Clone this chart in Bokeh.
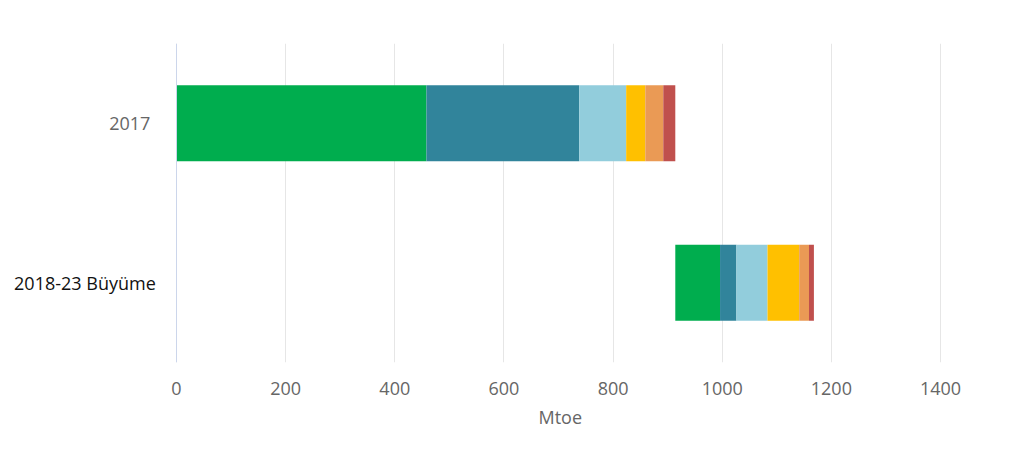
import numpy as np
from bokeh.plotting import figure
from bokeh.models import ColumnDataSource, FactorRange, Label, Span, FixedTicker, Title
from bokeh.embed import file_html
from bokeh.resources import INLINE

# Categories (top to bottom) and their stacked components, in Mtoe
categories = ["2017", "2018-23 Büyüme"]
values_2017 = [458, 280, 86, 35, 33, 22]
growth_2018_23 = [82, 30, 57, 58, 18, 9]
segment_colors = ["#00AD4E", "#31849B", "#92CDDC", "#FFC000", "#EA9A55", "#C0504D"]
x_ticks = [0, 200, 400, 600, 800, 1000, 1200, 1400]

# Growth bar floats on top of the 2017 total
growth_start = sum(values_2017)

# The frame reaches the left edge so the category labels sit inside it;
# the negative part of the x range holds those labels.
p = figure(
    width=1013, height=459,
    y_range=FactorRange(factors=categories[::-1]),
    x_range=(-322.5, 1401.8),
    output_backend="svg", toolbar_location=None,
    min_border_left=0, min_border_right=72,
    min_border_top=43, min_border_bottom=97,
)
p.outline_line_color = None
p.background_fill_color = "white"
p.border_fill_color = "white"

rows = [(categories[0], 0, values_2017), (categories[1], growth_start, growth_2018_23)]
for cat, start, vals in rows:
    right = start + np.cumsum(vals)
    left = right - np.array(vals)
    src = ColumnDataSource(dict(
        y=[cat] * len(vals), left=left, right=right, color=segment_colors,
    ))
    p.hbar(y="y", left="left", right="right", height=0.475, color="color",
           line_color=None, source=src)

# Axes
p.yaxis.visible = False
p.ygrid.grid_line_color = None
p.xgrid.grid_line_color = "#e6e6e6"
p.xgrid.grid_line_width = 1

xa = p.xaxis[0]
xa.ticker = FixedTicker(ticks=x_ticks)
xa.axis_line_color = None
xa.major_tick_line_color = None
xa.minor_tick_line_color = None
xa.major_tick_out = 0
xa.major_tick_in = 0
xa.major_label_standoff = 19
xa.major_label_text_font = "Open Sans"
xa.major_label_text_font_size = "18px"
xa.major_label_text_color = "#666666"

# Axis title, centred under the 0-1400 span
p.add_layout(Title(text="Mtoe", align="left", offset=538, standoff=10,
                   text_font="Open Sans", text_font_size="18px",
                   text_font_style="normal", text_color="#666666"), "below")

# Baseline at zero
p.add_layout(Span(location=0, dimension="height", line_color="#ccd6eb", line_width=1))

# Category labels (y is the factor's synthetic centre)
p.add_layout(Label(x=-48, y=1.5, text=categories[0], text_align="right",
                   text_baseline="middle", text_font="Open Sans",
                   text_font_size="18px", text_color="#666666"))
p.add_layout(Label(x=-38, y=0.5, text=categories[1], text_align="right",
                   text_baseline="middle", text_font="Open Sans",
                   text_font_size="18px", text_color="#111111"))

open("out.html", "w").write(file_html(p, INLINE))
